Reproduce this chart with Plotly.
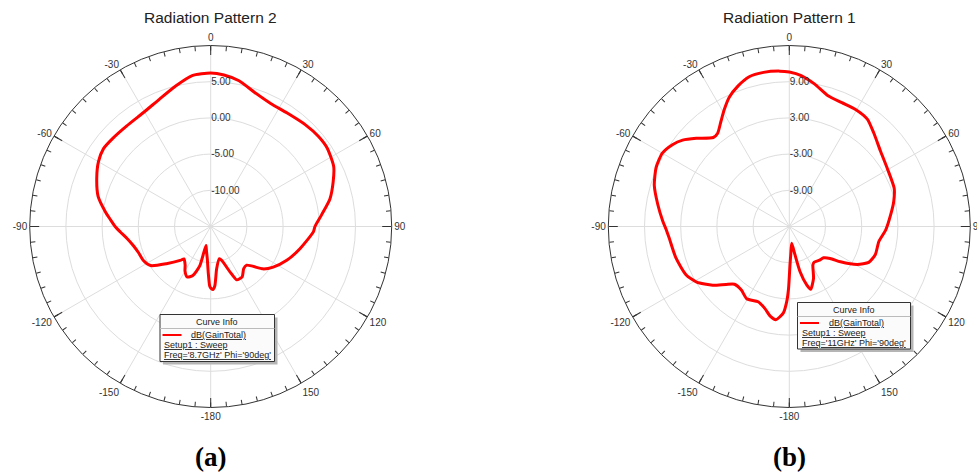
import plotly.graph_objects as go

W, H = 977, 473

# ---- Radiation Pattern 2 : dB(GainTotal), Freq = 8.7 GHz, Phi = 90 deg ----
theta_a = [-179, -177, -174, -170, -166, -164.5, -160, -155, -150, -146.5, -140.5,
           -138, -130, -123, -117, -110, -104, -98, -93.5, -90, -86, -82, -75, -67,
           -60, -54, -48, -40, -30, -22, -14, -7, 0, 5, 11, 18, 26, 34, 43, 50, 56,
           64, 70, 77, 84, 90, 93, 104, 114, 123, 129, 137, 142, 148, 154, 157, 162,
           165, 172, 176, 178, 180]
gain_a = [-6.8, -8.6, -10.5, -11.6, -12.3, -9.4, -7.8, -7.3, -7.9, -8.6, -9.2,
          -8.7, -7.0, -5.1, -4.6, -4.4, -4.0, -3.3, -2.5, -1.8, -1.1, -0.3, 1.1, 2.1,
          2.9, 3.3, 3.2, 3.1, 3.3, 3.95, 5.0, 6.0, 6.2, 6.0, 5.5, 4.5, 3.9, 3.9, 4.2,
          4.4, 4.4, 3.9, 3.0, 1.9, 0.4, -0.6, -0.8, -2.3, -3.5, -4.7, -5.7, -7.7,
          -7.6, -6.8, -6.8, -8.2, -10.1, -10.4, -9.1, -6.8, -6.3, -6.5]

# ---- Radiation Pattern 1 : dB(GainTotal), Freq = 11 GHz, Phi = 90 deg ----
theta_b = [-179.3, -178, -176, -171.8, -168, -163.5, -157.5, -149.5, -143, -136.5,
           -132.5, -127.5, -121, -115, -105.5, -95.5, -91.5, -87.5, -80.5, -73, -66,
           -60, -55, -51, -46.5, -40.5, -37.5, -33, -29, -25, -20, -15, -9.5, -3.5,
           0, 4.5, 10, 16.5, 23, 29.5, 36, 42, 50.5, 59, 70, 76.5, 83.5, 92, 99.5,
           108, 114.3, 119.2, 124.6, 128, 132.4, 138, 145.3, 148.6, 155, 161.2,
           163.4, 166.6, 168.6, 171.8, 176.8, 179]
gain_b = [-4.7, -2.5, -0.6, 0.6, 0.2, -0.8, -1.5, -1.1, -1.8, -1.8,
          -0.8, 1.0, 2.9, 3.9, 4.5, 5.0, 5.4, 6.0, 7.1, 8.4, 9.15,
          9.3, 8.65, 7.75, 6.25, 4.4, 4.5, 5.8, 7.2, 8.6, 9.8, 10.7, 10.9, 10.8,
          10.6, 10.1, 9.0, 7.6, 7.3, 7.3, 7.0, 5.9, 4.6, 3.9, 3.5, 2.8, 1.9, 1.0, 0.05,
          0.0, -0.55, -2.1, -4.7, -6.4, -7.3, -7.5, -7.8, -7.5, -5.5, -4.0,
          -4.9, -7.3, -10.2, -12.2, -10.5, -8.6]

# Axis definitions
range_a = [-15, 10]
rings_a = [-10, -5, 0, 5]
range_b = [-15, 15]
rings_b = [-9, -3, 3, 9]
angle_major = list(range(0, 360, 30))
angle_labels = ["0", "30", "60", "90", "120", "150", "-180",
                "-150", "-120", "-90", "-60", "-30"]
angle_minor = list(range(0, 360, 5))

titles = ["Radiation Pattern 2", "Radiation Pattern 1"]
captions = ["(a)", "(b)"]
freq_text = ["Freq='8.7GHz' Phi='90deg'", "Freq='11GHz' Phi='90deg'"]

FONT = "Liberation Sans, Arial, sans-serif"
SERIF = "Liberation Serif"
RADIUS = 181
CY = 226.5
centers_x = [210.7, 789.3]


def px(x):
    return x / W


def py(y):
    return 1 - y / H


def closed(seq):
    return list(seq) + [seq[0]]


fig = go.Figure()

for i, (th, g) in enumerate([(theta_a, gain_a), (theta_b, gain_b)]):
    fig.add_trace(go.Scatterpolar(
        theta=closed(th), r=closed(g), mode="lines",
        line=dict(color="#ff0000", width=3, shape="spline", smoothing=0.6),
        subplot="polar" if i == 0 else "polar2",
        showlegend=False, hoverinfo="skip"))

# empty traces so the minor-tick overlays are rendered
for sp in ["polar3", "polar4"]:
    fig.add_trace(go.Scatterpolar(theta=[], r=[], mode="lines", subplot=sp,
                                  showlegend=False, hoverinfo="skip"))


def domain(cx):
    return dict(x=[px(cx - RADIUS), px(cx + RADIUS)],
                y=[py(CY + RADIUS), py(CY - RADIUS)])


def main_polar(cx, rng, rings):
    return dict(
        domain=domain(cx),
        bgcolor="white",
        angularaxis=dict(
            rotation=90, direction="clockwise",
            tickmode="array", tickvals=angle_major, ticktext=angle_labels,
            ticks="inside", ticklen=9, tickcolor="#333333", tickwidth=1,
            showline=True, linecolor="#333333", linewidth=1,
            showgrid=True, gridcolor="#dddddd", gridwidth=1,
            tickfont=dict(family=FONT, size=10, color="#333333")),
        radialaxis=dict(
            range=rng, tickmode="array", tickvals=rings,
            ticktext=["%.2f" % v for v in rings],
            angle=90, side="clockwise", tickangle=90, showline=False, ticks="",
            showgrid=True, gridcolor="#dddddd", gridwidth=1,
            tickfont=dict(family=FONT, size=10, color="#333333")),
    )


def minor_polar(cx, rng):
    return dict(
        domain=domain(cx),
        bgcolor="rgba(0,0,0,0)",
        angularaxis=dict(
            rotation=90, direction="clockwise",
            tickmode="array", tickvals=angle_minor,
            ticks="inside", ticklen=4.5, tickcolor="#333333", tickwidth=1,
            showticklabels=False, showline=False, showgrid=False),
        radialaxis=dict(range=rng, visible=False),
    )


shapes = []
annotations = []

for i, cx in enumerate(centers_x):
    annotations.append(dict(x=px(cx), y=py(18), xref="paper", yref="paper",
                            text=titles[i], showarrow=False,
                            font=dict(family=FONT, size=15.5, color="#222222"),
                            xanchor="center", yanchor="middle"))
    annotations.append(dict(x=px(cx), y=py(457), xref="paper", yref="paper",
                            text="<b>%s</b>" % captions[i], showarrow=False,
                            font=dict(family=SERIF, size=27, color="black"),
                            xanchor="center", yanchor="middle"))

# Curve Info boxes
boxes = [dict(x0=160, y0=314.5, x1=274.5, y1=361.5),
         dict(x0=797.5, y0=302.5, x1=910.5, y1=349)]
for i, b in enumerate(boxes):
    x0, y0, x1, y1 = b["x0"], b["y0"], b["x1"], b["y1"]
    shapes.append(dict(type="rect", xref="paper", yref="paper",
                       x0=px(x0 + 3), x1=px(x1 + 3), y0=py(y1 + 3), y1=py(y0 + 3),
                       line=dict(width=0), fillcolor="#b5b5b5"))
    shapes.append(dict(type="rect", xref="paper", yref="paper",
                       x0=px(x0), x1=px(x1), y0=py(y1), y1=py(y0),
                       line=dict(color="#333333", width=1), fillcolor="#fbfbfb"))
    shapes.append(dict(type="line", xref="paper", yref="paper",
                       x0=px(x0), x1=px(x1), y0=py(y0 + 14), y1=py(y0 + 14),
                       line=dict(color="#bbbbbb", width=1)))
    shapes.append(dict(type="line", xref="paper", yref="paper",
                       x0=px(x0 + 2.5), x1=px(x0 + 21.5), y0=py(y0 + 20.5), y1=py(y0 + 20.5),
                       line=dict(color="#ff0000", width=2)))
    lf = dict(family=FONT, size=9, color="#222222")
    annotations.append(dict(x=px((x0 + x1) / 2), y=py(y0 + 7), xref="paper", yref="paper",
                            text="Curve Info", showarrow=False, font=lf,
                            xanchor="center", yanchor="middle"))
    annotations.append(dict(x=px(x0 + 29), y=py(y0 + 20.5), xref="paper", yref="paper",
                            text="<u>dB(GainTotal)</u>", showarrow=False, font=lf,
                            xanchor="left", yanchor="middle"))
    annotations.append(dict(x=px(x0 + 2), y=py(y0 + 30.5), xref="paper", yref="paper",
                            text="<u>Setup1 : Sweep</u>", showarrow=False, font=lf,
                            xanchor="left", yanchor="middle"))
    annotations.append(dict(x=px(x0 + 2), y=py(y0 + 40), xref="paper", yref="paper",
                            text="<u>%s</u>" % freq_text[i], showarrow=False, font=lf,
                            xanchor="left", yanchor="middle"))

fig.update_layout(
    width=W, height=H,
    margin=dict(l=0, r=0, t=0, b=0),
    paper_bgcolor="white",
    showlegend=False,
    polar=main_polar(centers_x[0], range_a, rings_a),
    polar2=main_polar(centers_x[1], range_b, rings_b),
    polar3=minor_polar(centers_x[0], range_a),
    polar4=minor_polar(centers_x[1], range_b),
    shapes=shapes,
    annotations=annotations,
)

fig.write_html("out.html")
